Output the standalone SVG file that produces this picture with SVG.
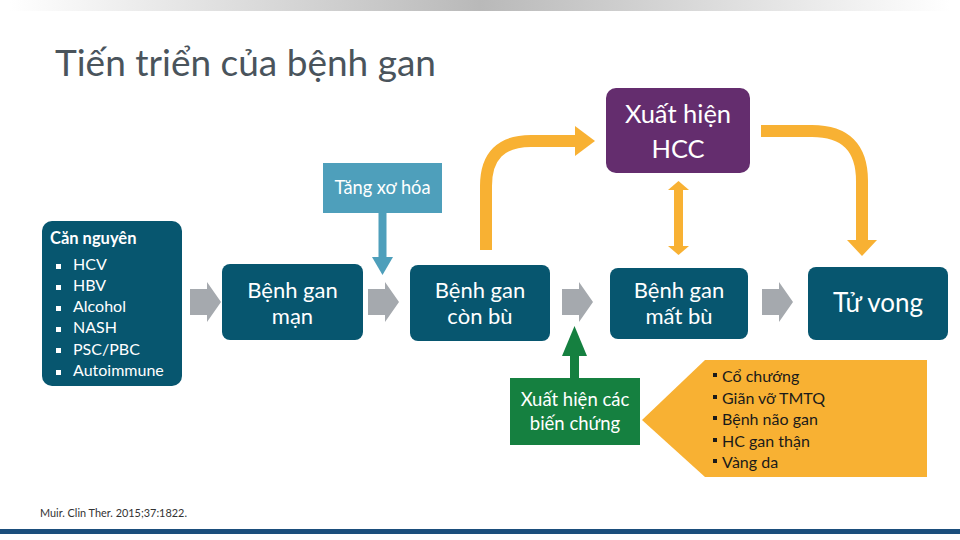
<svg xmlns="http://www.w3.org/2000/svg" width="960" height="540" viewBox="0 0 960 540">
<defs>
<linearGradient id="topbar" x1="0" x2="1" y1="0" y2="0">
<stop offset="0" stop-color="#ffffff"/>
<stop offset="0.5" stop-color="#b9b9b9"/>
<stop offset="1" stop-color="#ffffff"/>
</linearGradient>
<g id="grayArrow"><polygon points="0,-13 17,-13 17,-20 31,0 17,20 17,13 0,13" fill="#a5a9ae"/></g>
</defs>
<style>
text{font-family:Lato,"Noto Sans","Open Sans",sans-serif}
.w{fill:#ffffff}
.box{fill:#07566f}
.c{text-anchor:middle}
.li{font-size:16px;fill:#ffffff}
.ol{font-size:16px;fill:#1a1a1a}
.orange{fill:none;stroke:#f8b133;stroke-width:12}
</style>
<rect x="0" y="0" width="960" height="540" fill="#ffffff"/>
<rect x="10" y="0" width="940" height="11" fill="url(#topbar)"/>
<text x="55" y="76" font-size="37" fill="#4a545c">Tiến triển của bệnh gan</text>

<g id="connectors">
<use href="#grayArrow" x="190" y="302"/>
<use href="#grayArrow" x="368" y="302"/>
<use href="#grayArrow" x="562" y="302"/>
<use href="#grayArrow" x="762" y="302"/>
<path class="orange" d="M486,250 V186 Q486,141 531,141 H578"/>
<polygon points="575,126 595,141 575,156" fill="#f8b133"/>
<path class="orange" d="M761,131 H812 Q862,131 862,181 V242"/>
<polygon points="847,240 877,240 862,256" fill="#f8b133"/>
<rect x="674" y="187" width="9" height="61" fill="#f8b133"/>
<polygon points="668,190 678.5,181 689,190" fill="#f8b133"/>
<polygon points="668,246 678.5,255 689,246" fill="#f8b133"/>
<rect x="378.5" y="212" width="8" height="47" fill="#4e9fbb"/>
<polygon points="372,257 393,257 382.5,275" fill="#4e9fbb"/>
<rect x="570" y="354" width="9" height="25" fill="#158040"/>
<polygon points="562,356 587,356 574.5,326" fill="#158040"/>
</g>

<g id="can-nguyen">
<rect x="42" y="221" width="140" height="165" rx="10" class="box"/>
<text x="50" y="244" font-size="16.5" font-weight="bold" class="w">Căn nguyên</text>
<g class="li">
<rect x="56" y="264" width="5" height="5" class="w"/><text x="73" y="270">HCV</text>
<rect x="56" y="285" width="5" height="5" class="w"/><text x="73" y="291">HBV</text>
<rect x="56" y="306" width="5" height="5" class="w"/><text x="73" y="312">Alcohol</text>
<rect x="56" y="327" width="5" height="5" class="w"/><text x="73" y="333">NASH</text>
<rect x="56" y="348" width="5" height="5" class="w"/><text x="73" y="355">PSC/PBC</text>
<rect x="56" y="370" width="5" height="5" class="w"/><text x="73" y="376">Autoimmune</text>
</g>
</g>

<g id="benh-gan-man">
<rect x="222" y="264" width="141" height="76" rx="8" class="box"/>
<text x="292.5" y="298" font-size="22" class="w c">Bệnh gan</text>
<text x="292.5" y="324" font-size="22" class="w c">mạn</text>
</g>

<g id="benh-gan-con-bu">
<rect x="410" y="265" width="140" height="76" rx="8" class="box"/>
<text x="480" y="298" font-size="22" class="w c">Bệnh gan</text>
<text x="480" y="324" font-size="22" class="w c">còn bù</text>
</g>

<g id="benh-gan-mat-bu">
<rect x="610" y="268" width="138" height="71" rx="8" class="box"/>
<text x="679" y="298" font-size="22" class="w c">Bệnh gan</text>
<text x="679" y="324" font-size="22" class="w c">mất bù</text>
</g>

<g id="tu-vong">
<rect x="808" y="267" width="140" height="73" rx="8" class="box"/>
<text x="878" y="312" font-size="26" class="w c">Tử vong</text>
</g>

<g id="hcc">
<rect x="606" y="88" width="144" height="85" rx="10" fill="#642d6e"/>
<text x="678" y="123" font-size="25.5" class="w c">Xuất hiện</text>
<text x="678" y="158" font-size="25.5" class="w c">HCC</text>
</g>

<g id="tang-xo-hoa">
<rect x="323" y="163" width="119" height="50" fill="#4e9fbb"/>
<text x="382.5" y="194" font-size="18.3" class="w c">Tăng xơ hóa</text>
</g>

<g id="bien-chung">
<rect x="510" y="378" width="130" height="67" fill="#158040"/>
<text x="575" y="406" font-size="18.5" class="w c">Xuất hiện các</text>
<text x="575" y="430" font-size="18.5" class="w c">biến chứng</text>
</g>

<g id="bien-chung-list">
<polygon points="642,420 705,360 927,360 927,477 705,477" fill="#f8b133"/>
<g class="ol">
<rect x="713" y="373" width="4" height="4" fill="#1a1a1a"/><text x="722" y="382">Cổ chướng</text>
<rect x="713" y="395" width="4" height="4" fill="#1a1a1a"/><text x="722" y="404">Giãn vỡ TMTQ</text>
<rect x="713" y="416" width="4" height="4" fill="#1a1a1a"/><text x="722" y="425">Bệnh não gan</text>
<rect x="713" y="438" width="4" height="4" fill="#1a1a1a"/><text x="722" y="447">HC gan thận</text>
<rect x="713" y="459" width="4" height="4" fill="#1a1a1a"/><text x="722" y="468">Vàng da</text>
</g>
</g>

<text x="40" y="517" font-size="10.9" fill="#333333">Muir. Clin Ther. 2015;37:1822.</text>
<rect x="0" y="529" width="960" height="5" fill="#1b4e7c"/>
</svg>
